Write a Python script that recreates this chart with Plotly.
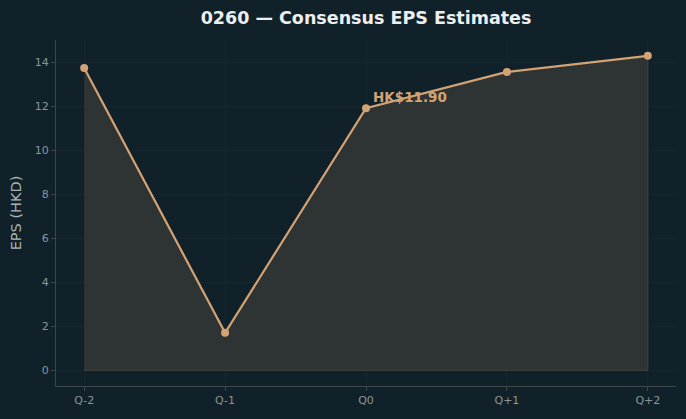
import plotly.graph_objects as go

quarters = ["Q-2", "Q-1", "Q0", "Q+1", "Q+2"]
eps = [13.73, 1.70, 11.90, 13.55, 14.28]
current_label = "HK$11.90"
current_index = 2

BG = "#10212a"
LINE = "#d4a373"
FILL = "#2e3333"
SPINE = "#3b4749"
TICK = "#8a9699"

xs = list(range(len(quarters)))

fig = go.Figure()
# filled area (polygon closed to zero)
fig.add_trace(go.Scatter(
    x=xs + [xs[-1], xs[0]], y=eps + [0, 0],
    mode="lines", fill="toself", fillcolor=FILL,
    line=dict(color="#45443d", width=1), hoverinfo="skip", showlegend=False))
fig.add_trace(go.Scatter(
    x=xs, y=eps, mode="lines+markers",
    line=dict(color=LINE, width=2.2),
    marker=dict(color=LINE, size=8), showlegend=False))

fig.add_annotation(
    x=xs[current_index], y=eps[current_index], text="<b>" + current_label + "</b>",
    showarrow=False, xanchor="left", yanchor="bottom", xshift=5, yshift=1,
    font=dict(color=LINE, size=13.5, family="DejaVu Sans"))

fig.update_layout(
    width=686, height=419,
    paper_bgcolor=BG, plot_bgcolor=BG,
    margin=dict(l=56, r=10, t=40, b=33),
    title=dict(text="<b>0260 — Consensus EPS Estimates</b>", x=(56 + 676) / 2 / 686,
               xanchor="center", y=1 - 18 / 419, yanchor="middle",
               font=dict(color="#eeeeee", size=17.5, family="DejaVu Sans")),
    font=dict(family="DejaVu Sans", color=TICK, size=11),
    xaxis=dict(range=[-0.2, 4.2], tickmode="array", tickvals=xs, ticktext=quarters,
               showgrid=True, gridcolor="rgba(255,255,255,0.025)", zeroline=False,
               showline=True, linecolor=SPINE, linewidth=1,
               ticks="outside", ticklen=4, tickcolor=SPINE,
               tickfont=dict(color=TICK, size=11)),
    yaxis=dict(range=[-0.715, 15.0], dtick=2, tick0=0,
               showgrid=True, gridcolor="rgba(255,255,255,0.025)", zeroline=False,
               showline=True, linecolor=SPINE, linewidth=1,
               ticks="outside", ticklen=4, tickcolor=SPINE,
               tickfont=dict(color=TICK, size=11),
               title=dict(text="EPS (HKD)", font=dict(color="#aab4b6", size=14.5), standoff=9)),
)

fig.write_html("out.html")
